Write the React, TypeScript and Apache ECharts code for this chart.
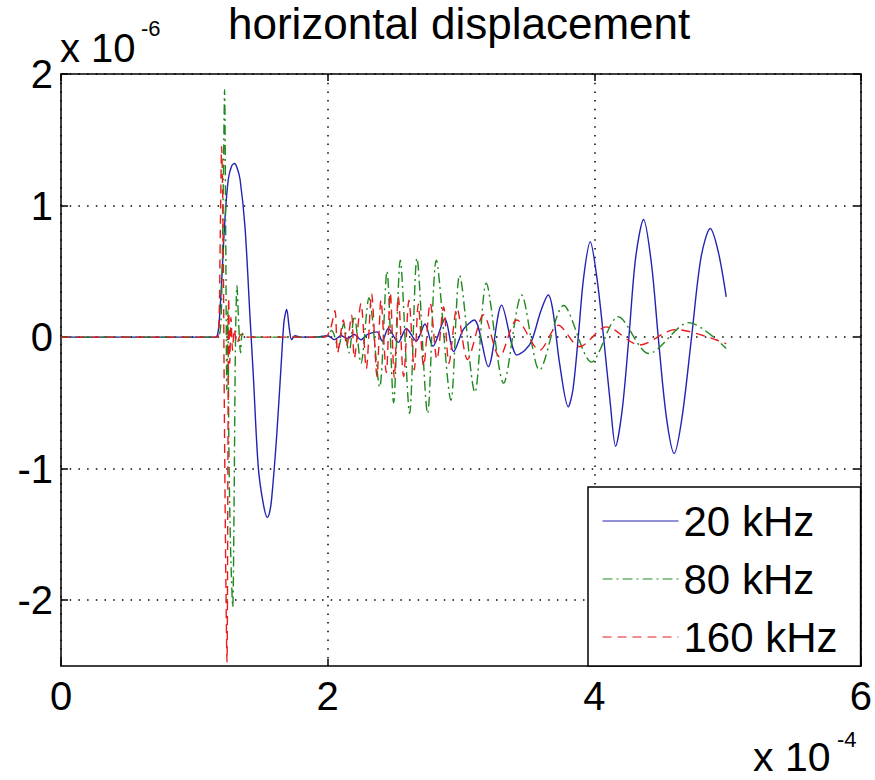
import React, { useEffect, useRef } from 'react';
import * as echarts from 'echarts';

// ---- data (x in units of 1e-4 s, y in units of 1e-6) ----
const TITLE = 'horizontal displacement';
const SERIES_NAMES = ['20 kHz', '80 kHz', '160 kHz'];
const X_TICKS = [0, 2, 4, 6];
const Y_TICKS = [-2, -1, 0, 1, 2];
const X_EXPONENT = '-4';
const Y_EXPONENT = '-6';
const EXP_BASE = 'x 10';

const blue20: [number, number][] = [
  [0, 0], [1.16, 0], [1.175, 0.02], [1.187, 0.12], [1.205, 0.42], [1.23, 0.9], [1.255, 1.2],
  [1.28, 1.3], [1.3, 1.32], [1.32, 1.29], [1.343, 1.2], [1.38, 0.84], [1.418, 0.15],
  [1.443, -0.3], [1.48, -0.99], [1.518, -1.27], [1.548, -1.37], [1.565, -1.33], [1.58, -1.23],
  [1.618, -0.75], [1.655, -0.15], [1.673, 0.12], [1.693, 0.21], [1.713, 0.06], [1.73, -0.02],
  [1.755, 0.01], [1.8, 0], [1.9, 0], [2.0, 0.01], [2.05, -0.02], [2.1, 0.01], [2.15, -0.01],
  [2.2, 0.02], [2.25, -0.02], [2.3, 0.02], [2.37, 0.04], [2.41, -0.03], [2.455, 0.066],
  [2.53, -0.04], [2.59, 0.066], [2.665, -0.03], [2.73, 0.1], [2.79, -0.07], [2.88, 0.14],
  [2.945, -0.11], [3.02, 0.06], [3.1, 0.13], [3.205, -0.225], [3.305, 0.243], [3.42, -0.137],
  [3.48, -0.1], [3.53, -0.03], [3.6, 0.2], [3.655, 0.32], [3.69, 0.2], [3.74, -0.2],
  [3.805, -0.53], [3.84, -0.4], [3.88, 0], [3.92, 0.45], [3.97, 0.725], [4.02, 0.45],
  [4.07, 0], [4.12, -0.5], [4.16, -0.83], [4.21, -0.55], [4.26, 0], [4.31, 0.6], [4.37, 0.894],
  [4.43, 0.55], [4.48, 0], [4.54, -0.6], [4.6, -0.884], [4.66, -0.6], [4.73, 0], [4.8, 0.6],
  [4.87, 0.826], [4.93, 0.65], [4.99, 0.306],
];

const green80: [number, number][] = [
  [0, 0], [1.17, 0], [1.195, 0.05], [1.207, 0.4], [1.218, 1.2], [1.227, 1.88], [1.236, 0.7],
  [1.244, -0.4], [1.252, 0.2], [1.26, -0.9], [1.272, -1.6], [1.288, -2.05], [1.298, -1.3],
  [1.308, -0.1], [1.32, 0.39], [1.333, 0.1], [1.347, -0.12], [1.36, 0.03], [1.38, 0],
  [1.7, 0], [1.98, 0], [2.03, 0.05], [2.08, -0.08], [2.12, 0.1], [2.16, -0.12], [2.2, 0.16],
  [2.25, -0.2], [2.31, 0.3], [2.39, -0.38], [2.445, 0.5], [2.495, -0.5], [2.545, 0.585],
  [2.615, -0.58], [2.67, 0.6], [2.75, -0.58], [2.815, 0.585], [2.925, -0.48], [2.99, 0.47],
  [3.105, -0.42], [3.19, 0.41], [3.32, -0.35], [3.455, 0.32], [3.59, -0.25], [3.77, 0.24],
  [3.98, -0.19], [4.18, 0.155], [4.41, -0.125], [4.71, 0.11], [4.99, -0.086],
];

const red160: [number, number][] = [
  [0, 0], [1.17, 0], [1.185, 0.1], [1.195, 0.8], [1.205, 1.45], [1.215, 0.9], [1.225, -0.5],
  [1.235, -1.7], [1.245, -2.47], [1.252, -1.0], [1.258, 0.3], [1.266, -0.2], [1.275, 0.15],
  [1.287, -0.1], [1.3, 0.06], [1.32, -0.05], [1.35, 0.02], [1.4, 0], [1.98, 0], [2.02, 0.06],
  [2.055, 0.2], [2.075, -0.12], [2.118, 0.13], [2.143, -0.07], [2.18, 0.167], [2.2, -0.16],
  [2.25, 0.256], [2.29, -0.24], [2.33, 0.33], [2.37, -0.3], [2.4, 0.28], [2.44, -0.27],
  [2.47, 0.34], [2.5, -0.31], [2.53, 0.31], [2.57, -0.3], [2.61, 0.28], [2.65, -0.25],
  [2.68, 0.25], [2.72, -0.22], [2.77, 0.26], [2.82, -0.17], [2.87, 0.23], [2.91, -0.2],
  [2.97, 0.22], [3.05, -0.17], [3.17, 0.17], [3.29, -0.15], [3.42, 0.13], [3.59, -0.1],
  [3.73, 0.09], [3.89, -0.073], [4.09, 0.078], [4.34, -0.06], [4.61, 0.058], [4.99, -0.05],
];

const FONT = '"Liberation Sans", Arial, Helvetica, sans-serif';
const COLORS = ['#2222b4', '#1e8a1e', '#e81c1c'];

export default function App() {
  const ref = useRef<HTMLDivElement>(null);

  useEffect(() => {
    if (!ref.current) return;
    const chart = echarts.init(ref.current, undefined, { renderer: 'svg' });
    const axisLine = { show: true, onZero: false, lineStyle: { color: '#000', width: 1.5 } };
    const tick = { show: true, inside: true, length: 7, lineStyle: { color: '#000', width: 1.5 } };
    const dotted = { show: true, lineStyle: { color: '#000', width: 1.5, type: [1.5, 7.2] } };
    const lineSeries = (name: string, data: [number, number][], color: string, type: any) => ({
      name,
      type: 'line',
      data,
      symbol: 'none',
      showSymbol: false,
      smooth: 0.3,
      xAxisIndex: 0,
      yAxisIndex: 0,
      itemStyle: { color },
      lineStyle: { color, width: 1.4, type },
    });

    chart.setOption({
      animation: false,
      backgroundColor: '#fff',
      title: {
        text: TITLE,
        left: 228,
        top: 1,
        padding: 0,
        textStyle: { fontFamily: FONT, fontSize: 44, fontWeight: 'normal', color: '#000' },
      },
      grid: { left: 61, top: 74, right: 14, bottom: 114, containLabel: false },
      xAxis: [
        {
          type: 'value',
          position: 'bottom',
          min: X_TICKS[0],
          max: X_TICKS[X_TICKS.length - 1],
          interval: 2,
          axisLine,
          axisTick: tick,
          splitLine: dotted,
          axisLabel: {
            show: true,
            margin: 10,
            color: '#000',
            fontFamily: FONT,
            fontSize: 40,
            formatter: (v: number) => String(v),
          },
        },
        {
          type: 'value',
          position: 'top',
          min: X_TICKS[0],
          max: X_TICKS[X_TICKS.length - 1],
          interval: 2,
          axisLine,
          axisTick: tick,
          splitLine: { show: false },
          axisLabel: { show: false },
        },
      ],
      yAxis: [
        {
          type: 'value',
          position: 'left',
          min: -2.5,
          max: 2,
          axisLine,
          axisTick: { ...tick, customValues: Y_TICKS },
          splitLine: dotted,
          axisLabel: {
            show: true,
            customValues: Y_TICKS,
            margin: 8,
            color: '#000',
            fontFamily: FONT,
            fontSize: 40,
            formatter: (v: number) => String(v),
          },
        },
        {
          type: 'value',
          position: 'right',
          min: -2.5,
          max: 2,
          axisLine,
          axisTick: { ...tick, customValues: Y_TICKS },
          splitLine: { show: false },
          axisLabel: { show: false, customValues: Y_TICKS },
        },
      ],
      legend: {
        show: true,
        orient: 'vertical',
        left: 588,
        top: 487,
        padding: [13, 23, 8, 14],
        itemGap: 16,
        itemWidth: 76,
        itemHeight: 14,
        backgroundColor: '#fff',
        borderColor: '#000',
        borderWidth: 1.5,
        borderRadius: 0,
        selectedMode: false,
        data: SERIES_NAMES,
        itemStyle: { opacity: 0, color: 'rgba(0,0,0,0)', borderWidth: 0 },
        lineStyle: { width: 1 },
        textStyle: { fontFamily: FONT, fontSize: 42, color: '#000', lineHeight: 40 },
      },
      graphic: [
        { type: 'text', x: 60, y: 47.5, style: { text: EXP_BASE, font: `40px ${FONT}`, fill: '#000', verticalAlign: 'middle', align: 'left' } },
        { type: 'text', x: 141, y: 28.5, style: { text: Y_EXPONENT, font: `22px ${FONT}`, fill: '#000', verticalAlign: 'middle', align: 'left' } },
        { type: 'text', x: 753, y: 757, style: { text: EXP_BASE, font: `41px ${FONT}`, fill: '#000', verticalAlign: 'middle', align: 'left' } },
        { type: 'text', x: 837, y: 739, style: { text: X_EXPONENT, font: `22px ${FONT}`, fill: '#000', verticalAlign: 'middle', align: 'left' } },
      ],
      series: [
        lineSeries(SERIES_NAMES[0], blue20, COLORS[0], 'solid'),
        lineSeries(SERIES_NAMES[1], green80, COLORS[1], [10, 4, 2, 4]),
        lineSeries(SERIES_NAMES[2], red160, COLORS[2], [9, 6]),
      ],
    });
    return () => chart.dispose();
  }, []);

  return (
    <div
      ref={ref}
      style={{ position: 'absolute', left: 0, top: 0, width: 875, height: 780, background: '#fff' }}
    />
  );
}
